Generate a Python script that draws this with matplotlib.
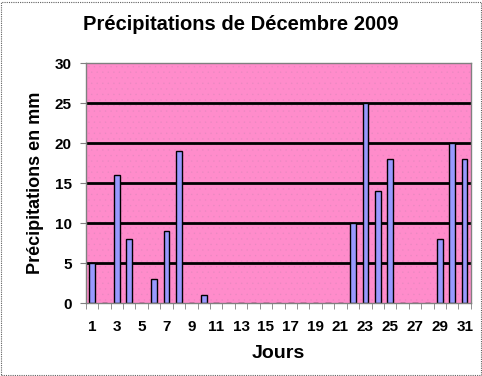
import matplotlib
matplotlib.use('Agg')
import matplotlib.pyplot as plt
from matplotlib.patches import Rectangle
import numpy as np

plt.rcParams['font.family'] = ['Liberation Sans', 'DejaVu Sans']
plt.rcParams['font.weight'] = 'bold'
plt.rcParams['hatch.linewidth'] = 0.2

# Daily rainfall in mm, December 2009
days = list(range(1, 32))
rain = [5, 0, 16, 8, 0, 3, 9, 19, 0, 1,
        0, 0, 0, 0, 0, 0, 0, 0, 0, 0,
        0, 10, 25, 14, 18, 0, 0, 0, 8, 20, 18]
y_ticks = [0, 5, 10, 15, 20, 25, 30]

fig = plt.figure(figsize=(4.82, 3.76), dpi=100)
ax = fig.add_axes([0.178, 0.194, 0.799, 0.638])

ax.set_facecolor('#FF8CCB')
ax.patch.set_hatch('...')
ax.patch.set_edgecolor('#E888C0')

for y in y_ticks[1:-1]:
    ax.axhline(y, color='black', linewidth=2.0, zorder=1)

x = np.arange(len(days))
ax.bar(x, rain, width=0.45, color='#9999FF', edgecolor='black',
       linewidth=1.0, zorder=2)

ax.set_xlim(-0.5, len(days) - 0.5)
ax.set_ylim(0, 30)
ax.set_yticks(y_ticks)
ax.set_yticklabels([str(v) for v in y_ticks], fontsize=11, fontweight='bold')
ax.set_xticks(x[::2])
ax.set_xticklabels([str(d) for d in days[::2]], fontsize=11, fontweight='bold')
ax.set_xticks(np.arange(-0.5, len(days), 1), minor=True)
ax.tick_params(axis='x', which='major', length=0, pad=12)
ax.tick_params(axis='x', which='minor', length=4, direction='out', color='#808080')
ax.tick_params(axis='y', length=4, direction='out', color='#808080', pad=6)

for side in ['top', 'right', 'left', 'bottom']:
    ax.spines[side].set_color('#808080')
    ax.spines[side].set_linewidth(1.0)

ax.set_xlabel('Jours', fontsize=14, fontweight='bold', labelpad=8)
ax.set_ylabel('Précipitations en mm', fontsize=13, fontweight='bold', labelpad=8)
fig.text(0.5, 0.935, 'Précipitations de Décembre 2009', ha='center', va='center',
         fontsize=14.5, fontweight='bold')

# dotted frame around the chart
fig.patches.append(Rectangle((0.002, 0.003), 0.995, 0.993, transform=fig.transFigure,
                             fill=False, edgecolor='#606060', linewidth=0.8,
                             linestyle=(0, (1, 1))))

fig.savefig('out.png', dpi=100)
